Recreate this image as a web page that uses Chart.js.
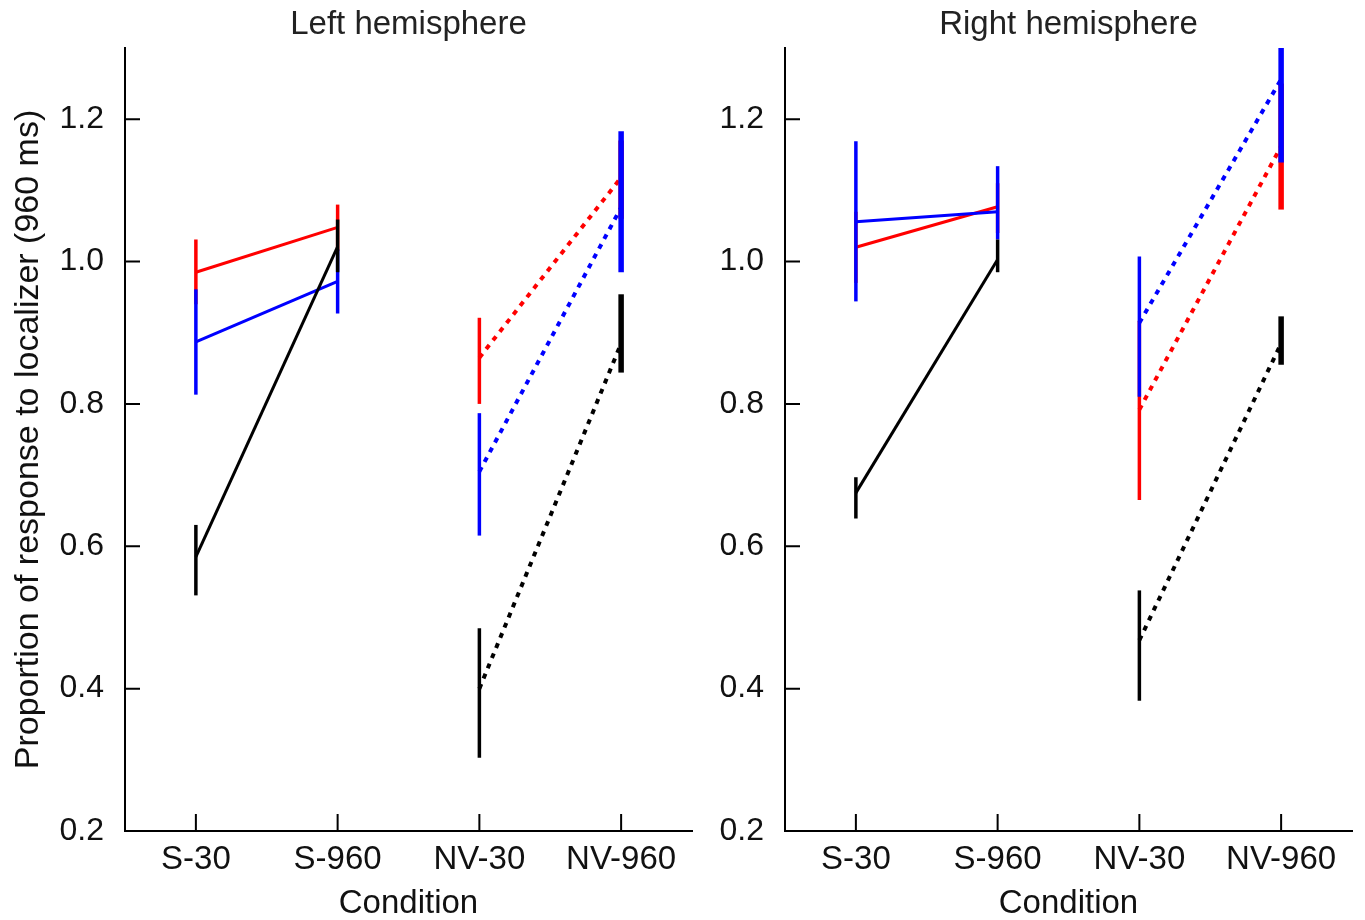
<!DOCTYPE html>
<html>
<head>
<meta charset="utf-8">
<script src="https://cdn.jsdelivr.net/npm/chart.js@4.4.1/dist/chart.umd.min.js"></script>
<style>
  html, body { margin: 0; padding: 0; background: #fff; overflow: hidden; }
  #wrap { position: relative; width: 1365px; height: 920px; }
  canvas { position: absolute; top: 0; }
</style>
</head>
<body>
<div id="wrap">
  <canvas id="leftChart" width="700" height="930" style="left:0px"></canvas>
  <canvas id="rightChart" width="665" height="930" style="left:700px"></canvas>
</div>
<script>
// conditions on the x axis (positions 0..3)
var conditions = ['S-30', 'S-960', 'NV-30', 'NV-960'];
var yTicks = [0.2, 0.4, 0.6, 0.8, 1.0, 1.2];

// left hemisphere: means and error bar ends
var leftRedMean = [0.985, 1.048, 0.865, 1.118];
var leftRedLo = [0.94, 1.015, 0.80, 1.06];
var leftRedHi = [1.031, 1.08, 0.921, 1.17];
var leftBlueMean = [0.887, 0.972, 0.705, 1.076];
var leftBlueLo = [0.813, 0.927, 0.615, 0.985];
var leftBlueHi = [0.961, 1.017, 0.787, 1.183];
var leftBlackMean = [0.585, 1.021, 0.40, 0.885];
var leftBlackLo = [0.531, 0.985, 0.303, 0.844];
var leftBlackHi = [0.63, 1.059, 0.485, 0.954];

// right hemisphere
var rightRedMean = [1.02, 1.077, 0.792, 1.162];
var rightRedLo = [0.97, 1.04, 0.665, 1.073];
var rightRedHi = [1.07, 1.11, 0.917, 1.25];
var rightBlueMean = [1.056, 1.07, 0.914, 1.256];
var rightBlueLo = [0.944, 1.031, 0.81, 1.139];
var rightBlueHi = [1.169, 1.134, 1.007, 1.37];
var rightBlackMean = [0.675, 1.003, 0.468, 0.885];
var rightBlackLo = [0.639, 0.985, 0.383, 0.855];
var rightBlackHi = [0.697, 1.031, 0.538, 0.923];

var FONT = "'Liberation Sans', Arial, sans-serif";
var barWidths = [3.5, 3.5, 3.5, 5.5];

function makeSeries(mean, lo, hi, color, order) {
  var sets = [];
  for (var i = 0; i < conditions.length; i++) {
    sets.push({
      data: [{x: i, y: lo[i]}, {x: i, y: hi[i]}],
      borderColor: color, borderWidth: barWidths[i],
      showLine: true, pointRadius: 0, order: order
    });
  }
  sets.push({
    data: [{x: 0, y: mean[0]}, {x: 1, y: mean[1]}],
    borderColor: color, borderWidth: 3,
    showLine: true, pointRadius: 0, order: order
  });
  sets.push({
    data: [{x: 2, y: mean[2]}, {x: 3, y: mean[3]}],
    borderColor: color, borderWidth: 4, borderDash: [5, 6],
    showLine: true, pointRadius: 0, order: order
  });
  return sets;
}

// inward tick marks + panel title
var panelDecor = {
  id: 'panelDecor',
  afterDraw: function(chart, args, opts) {
    var ctx = chart.ctx, a = chart.chartArea;
    var xs = chart.scales.x, ys = chart.scales.y;
    ctx.save();
    ctx.strokeStyle = '#000';
    ctx.lineWidth = 2;
    ctx.beginPath();
    for (var i = 0; i < conditions.length; i++) {
      var px = xs.getPixelForValue(i);
      ctx.moveTo(px, a.bottom);
      ctx.lineTo(px, a.bottom - 17);
    }
    yTicks.forEach(function(v) {
      var py = ys.getPixelForValue(v);
      ctx.moveTo(a.left, py);
      ctx.lineTo(a.left + 15, py);
    });
    ctx.stroke();
    ctx.fillStyle = '#222';
    ctx.font = '33px ' + FONT;
    ctx.textAlign = 'center';
    ctx.textBaseline = 'middle';
    ctx.fillText(opts.text, (a.left + a.right) / 2, 25);
    ctx.restore();
  }
};

function makeChart(id, title, series, yWidth, padRight, yTitle) {
  var ctx = document.getElementById(id).getContext('2d');
  return new Chart(ctx, {
    type: 'scatter',
    data: { datasets: series },
    options: {
      responsive: false,
      animation: false,
      devicePixelRatio: 1,
      layout: { padding: { top: 48, right: padRight, left: 0, bottom: 0 } },
      plugins: {
        legend: { display: false },
        tooltip: { enabled: false },
        panelDecor: { text: title }
      },
      scales: {
        x: {
          type: 'linear', min: -0.5, max: 3.5,
          afterBuildTicks: function(s) { s.ticks = conditions.map(function(c, i) { return {value: i}; }); },
          afterFit: function(s) { s.height = 99; },
          grid: { display: false },
          border: { display: true, color: '#000', width: 2 },
          ticks: {
            padding: 1, color: '#111', font: { size: 33, family: FONT },
            maxRotation: 0, autoSkip: false,
            callback: function(v) { return conditions[v]; }
          },
          title: { display: true, text: 'Condition', color: '#111',
                   font: { size: 33, family: FONT }, padding: { top: 0, bottom: 6 } }
        },
        y: {
          min: 0.2, max: 1.3,
          afterBuildTicks: function(s) { s.ticks = yTicks.map(function(v) { return {value: v}; }); },
          afterFit: function(s) { s.width = yWidth; },
          grid: { display: false },
          border: { display: true, color: '#000', width: 2 },
          ticks: {
            padding: 13, color: '#111', font: { size: 32, family: FONT },
            callback: function(v) { return Number(v).toFixed(1); }
          },
          title: { display: yTitle !== '', text: yTitle, color: '#111',
                   font: { size: 34, family: FONT }, padding: { top: 8, bottom: 0 } }
        }
      }
    },
    plugins: [panelDecor]
  });
}

var leftSeries = [].concat(
  makeSeries(leftBlackMean, leftBlackLo, leftBlackHi, '#000000', 0),
  makeSeries(leftBlueMean, leftBlueLo, leftBlueHi, '#0000ff', 1),
  makeSeries(leftRedMean, leftRedLo, leftRedHi, '#ff0000', 2)
);
var rightSeries = [].concat(
  makeSeries(rightBlackMean, rightBlackLo, rightBlackHi, '#000000', 0),
  makeSeries(rightBlueMean, rightBlueLo, rightBlueHi, '#0000ff', 1),
  makeSeries(rightRedMean, rightRedLo, rightRedHi, '#ff0000', 2)
);

makeChart('leftChart', 'Left hemisphere', leftSeries, 125, 8, 'Proportion of response to localizer (960 ms)');
makeChart('rightChart', 'Right hemisphere', rightSeries, 85, 13, '');
</script>
</body>
</html>
